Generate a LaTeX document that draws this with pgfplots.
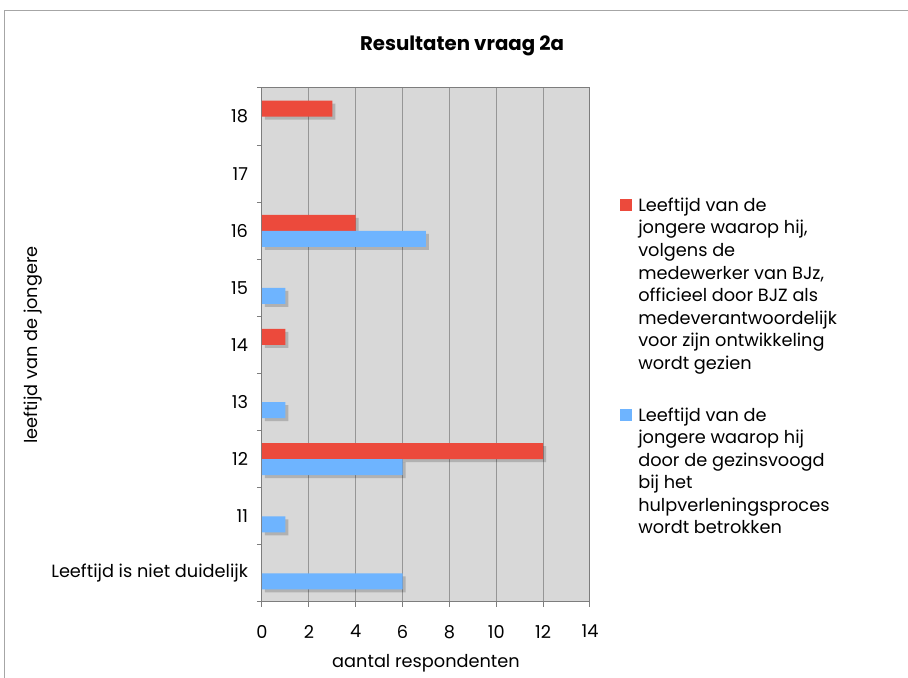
\documentclass[border=0pt]{standalone}
\usepackage{pgfplots}
\pgfplotsset{compat=1.18}
\usepackage{fontspec}
\setmainfont{Poppins}
\usetikzlibrary{shadows}
\definecolor{redbar}{RGB}{236,74,60}
\definecolor{bluebar}{RGB}{110,180,255}
\definecolor{bggray}{RGB}{216,216,216}
\definecolor{gridgray}{RGB}{150,150,150}
\definecolor{axgray}{RGB}{125,125,125}
\newcommand{\lf}{\fontsize{13.3}{16.9}\selectfont}
\begin{document}
\begin{tikzpicture}
\begin{axis}[
  at={(0,0)}, anchor=south west,
  scale only axis, width=246pt, height=385.5pt,
  xbar, bar width=12pt,
  xmin=0, xmax=14, xtick={0,2,...,14},
  ymin=-0.5, ymax=8.5,
  ytick={-0.5,0.5,...,8.5}, yticklabels={},
  extra y ticks={0,1,2,3,4,5,6,7,8},
  extra y tick labels={Leeftijd is niet duidelijk,11,12,13,14,15,16,17,18},
  extra y tick style={major tick length=0pt, yticklabel style={xshift=-7pt}},
  tick align=outside, tick pos=left, major tick length=3.75pt,
  tick style={axgray, line width=0.75pt},
  axis line style={axgray, line width=0.75pt},
  axis background/.style={fill=bggray},
  xmajorgrids, grid style={gridgray, line width=0.75pt},
  /pgf/number format/assume math mode=true,
  ticklabel style={font=\lf},
  xticklabel style={yshift=-10pt},
  title={\fontsize{14.8}{17}\selectfont\bfseries Resultaten vraag 2a},
  title style={at={(0.61,1.0665)}, anchor=center},
  xlabel={aantal respondenten},
  xlabel style={at={(0.5,-0.1187)}, anchor=center, font=\lf},
  ylabel={leeftijd van de jongere},
  ylabel style={at={(-0.698,0.5)}, anchor=center, rotate=0, font=\lf},
  legend style={at={(1.0915,0.791)}, anchor=north west, draw=none, fill=none,
    inner sep=0pt, row sep=22pt, column sep=4.5pt, font=\lf,
    cells={anchor=base west}, nodes={inner sep=0pt, text depth=}},
]
\addlegendimage{fill=redbar, draw=none,
  legend image code/.code={\fill[redbar] (0pt,0pt) rectangle (9pt,9pt);}}
\addlegendentry{\begin{tabular}[t]{@{}l@{}}Leeftijd van de\\ jongere waarop hij,\\ volgens de\\ medewerker van BJz,\\ officieel door BJZ als\\ medeverantwoordelijk\\ voor zijn ontwikkeling\\ wordt gezien\end{tabular}}
\addlegendimage{fill=bluebar, draw=none,
  legend image code/.code={\fill[bluebar] (0pt,0pt) rectangle (9pt,9pt);}}
\addlegendentry{\begin{tabular}[t]{@{}l@{}}Leeftijd van de\\ jongere waarop hij\\ door de gezinsvoogd\\ bij het\\ hulpverleningsproces\\ wordt betrokken\end{tabular}}
\addplot[forget plot, fill=redbar, draw=none, bar shift=6pt,
  drop shadow={shadow xshift=2.25pt, shadow yshift=-2.25pt, fill=black, opacity=0.18}]
  coordinates {(3,8) (4,6) (1,4) (12,2)};
\addplot[forget plot, fill=bluebar, draw=none, bar shift=-6pt,
  drop shadow={shadow xshift=2.25pt, shadow yshift=-2.25pt, fill=black, opacity=0.18}]
  coordinates {(7,6) (1,5) (1,3) (6,2) (1,1) (6,0)};
\end{axis}
\draw[black!35, line width=0.75pt] (-192.75pt,-70pt) -- (-192.75pt,443.25pt) -- (500pt,443.25pt);
\pgfresetboundingbox
\useasboundingbox (-196.5pt,-57pt) rectangle (484.5pt,451.5pt);
\end{tikzpicture}
\end{document}
